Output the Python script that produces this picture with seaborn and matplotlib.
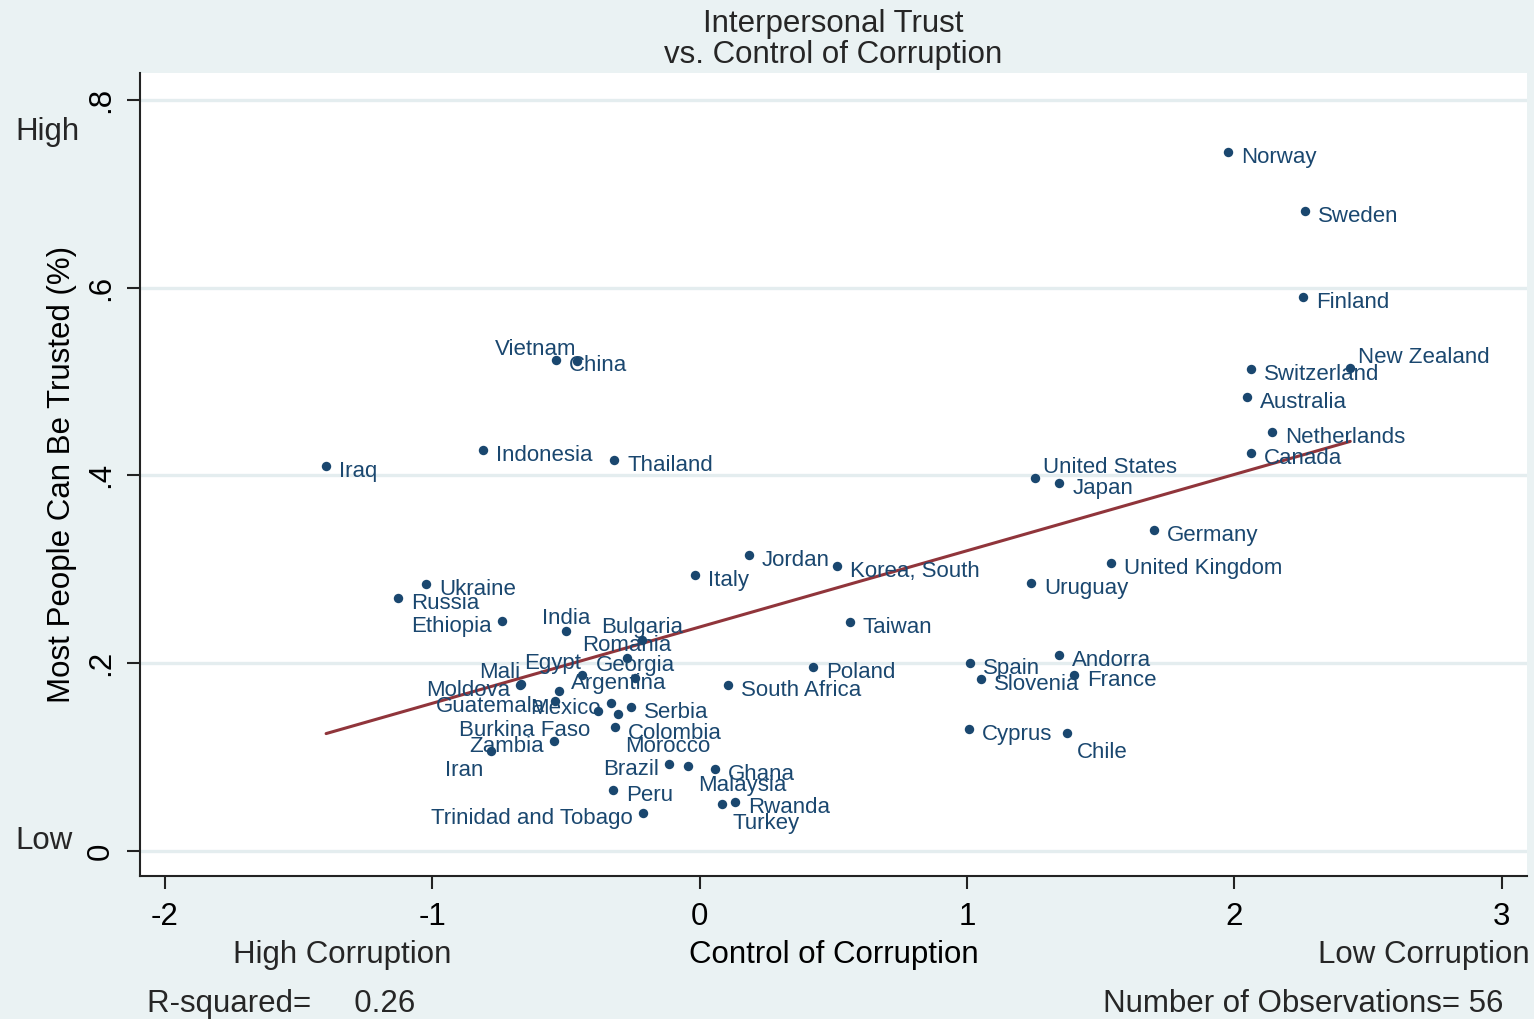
import numpy as np
import pandas as pd
import matplotlib
matplotlib.use("Agg")
import matplotlib.pyplot as plt
import seaborn as sns

# --- data ---
countries = [
    "Norway", "Sweden", "Finland", "New Zealand", "Switzerland", "Australia",
    "Netherlands", "Canada", "United States", "Japan", "Germany", "United Kingdom",
    "Uruguay", "Korea, South", "Jordan", "Italy", "Taiwan", "Poland",
    "South Africa", "Spain", "Slovenia", "Andorra", "France", "Cyprus", "Chile",
    "Iraq", "Indonesia", "Thailand", "Vietnam", "China", "Ukraine", "Russia",
    "Ethiopia", "India", "Bulgaria", "Romania", "Egypt", "Georgia", "Mali",
    "Moldova", "Argentina", "Guatemala", "Mexico", "Burkina Faso", "Colombia",
    "Serbia", "Morocco", "Zambia", "Iran", "Brazil", "Malaysia", "Ghana",
    "Peru", "Trinidad and Tobago", "Rwanda", "Turkey",
]
control = [
    1.976, 2.264, 2.257, 2.433, 2.062, 2.047,
    2.141, 2.062, 1.254, 1.345, 1.700, 1.538,
    1.239, 0.514, 0.185, -0.017, 0.562, 0.425,
    0.106, 1.011, 1.052, 1.345, 1.401, 1.007, 1.374,
    -1.397, -0.810, -0.320, -0.458, -0.539, -1.023, -1.128,
    -0.739, -0.500, -0.215, -0.272, -0.440, -0.242, -0.668,
    -0.672, -0.526, -0.541, -0.331, -0.380, -0.305,
    -0.257, -0.316, -0.545, -0.780, -0.114, -0.043, 0.058,
    -0.324, -0.212, 0.132, 0.084,
]
trust = [
    0.744, 0.682, 0.590, 0.514, 0.513, 0.483,
    0.446, 0.424, 0.397, 0.392, 0.342, 0.307,
    0.285, 0.304, 0.315, 0.294, 0.244, 0.196,
    0.177, 0.200, 0.183, 0.209, 0.187, 0.130, 0.126,
    0.410, 0.427, 0.416, 0.522, 0.523, 0.284, 0.269,
    0.245, 0.234, 0.225, 0.206, 0.187, 0.184, 0.178,
    0.177, 0.170, 0.160, 0.158, 0.149, 0.146,
    0.153, 0.132, 0.117, 0.106, 0.093, 0.091, 0.087,
    0.065, 0.040, 0.052, 0.050,
]
# clock position of each marker label (Stata style)
label_clock = [
    3, 3, 3, 1, 3, 3,
    3, 3, 1, 3, 3, 3,
    3, 3, 3, 3, 3, 3,
    3, 3, 3, 3, 3, 3, 4,
    3, 3, 3, 11, 3, 3, 3,
    9, 12, 12, 12, 11, 12, 11,
    9, 2, 9, 9, 7, 4,
    3, 4, 9, 7, 9, 4, 3,
    3, 9, 3, 4,
]
y_ticks = [0, 0.2, 0.4, 0.6, 0.8]
y_ticklabels = ["0", ".2", ".4", ".6", ".8"]
x_ticks = [-2, -1, 0, 1, 2, 3]
r_squared = "0.26"

NAVY = "#1a476f"
MAROON = "#90353b"
BG = "#eaf2f3"
GRID = "#e4edef"

# pixel offsets for each clock position: (dx, dy, ha)
CLOCK_OFFSETS = {
    1: (8, 13, "left"),
    2: (12, 10, "left"),
    3: (13, -3, "left"),
    4: (10, -17, "left"),
    7: (-8, -17, "right"),
    9: (-10, -3, "right"),
    11: (-1, 14, "right"),
    12: (0, 15, "center"),
}

df = pd.DataFrame({"country": countries, "control": control, "trust": trust,
                   "clock": label_clock})

sns.set_theme(style="white")
plt.rcParams["font.family"] = ["Liberation Sans", "DejaVu Sans"]
plt.rcParams["axes.unicode_minus"] = False

W, H = 1534, 1019
fig = plt.figure(figsize=(W / 100, H / 100), dpi=100, facecolor=BG)
ax = fig.add_axes([140 / W, 1 - 876 / H, (1527 - 140) / W, (876 - 73) / H])
ax.set_facecolor("white")

ax.set_xlim(-2.093, 3.094)
ax.set_ylim(-0.0266, 0.8285)

ax.set_yticks(y_ticks)
ax.set_yticklabels(y_ticklabels)
ax.set_xticks(x_ticks)
ax.yaxis.grid(True, color=GRID, lw=2.4)
ax.xaxis.grid(False)
ax.set_axisbelow(True)

sns.regplot(data=df, x="control", y="trust", scatter=False, ci=None,
            color=MAROON, line_kws=dict(lw=2.2), ax=ax)
sns.scatterplot(data=df, x="control", y="trust", color=NAVY, s=46,
                linewidth=0, ax=ax, zorder=3)

for _, row in df.iterrows():
    dx, dy, ha = CLOCK_OFFSETS[row["clock"]]
    ax.annotate(row["country"], (row["control"], row["trust"]),
                xytext=(dx, dy), textcoords="offset pixels",
                ha=ha, va="center_baseline", fontsize=16, color=NAVY, zorder=4)

for side in ["top", "right"]:
    ax.spines[side].set_visible(False)
for side in ["left", "bottom"]:
    ax.spines[side].set_color("#222222")
    ax.spines[side].set_linewidth(1.5)

ax.tick_params(axis="both", direction="out", length=9.5, width=1.5,
               color="#222222", labelsize=22.5, labelcolor="black",
               left=True, bottom=True)
ax.tick_params(axis="x", pad=9)
ax.tick_params(axis="y", pad=8)
for lab in ax.get_yticklabels():
    lab.set_rotation(90)
    lab.set_va("center")

ax.set_xlabel("Control of Corruption", fontsize=22.5, color="black")
ax.xaxis.set_label_coords(0.5, (876 - 955) / 803)
ax.xaxis.label.set_va("center")
ax.set_ylabel("Most People Can Be Trusted (%)", fontsize=22.5, color="black")
ax.yaxis.set_label_coords((62 - 140) / 1387, 0.5)
ax.yaxis.label.set_va("center")

fig.text(833 / W, 1 - 39.5 / H, "Interpersonal Trust\nvs. Control of Corruption",
         ha="center", va="center", fontsize=22.5, linespacing=1.05)
fig.text(15 / W, 1 - 132 / H, "High", ha="left", va="center", fontsize=22.5)
fig.text(15 / W, 1 - 841 / H, "Low", ha="left", va="center", fontsize=22.5)
fig.text(342 / W, 1 - 955 / H, "High Corruption", ha="center", va="center", fontsize=22.5)
fig.text(1530 / W, 1 - 955 / H, "Low Corruption", ha="right", va="center", fontsize=22.5)
fig.text(147 / W, 1 - 1004 / H, "R-squared=     " + r_squared,
         ha="left", va="center", fontsize=22.5)
fig.text(1503 / W, 1 - 1004 / H, f"Number of Observations= {len(df)}",
         ha="right", va="center", fontsize=22.5)

fig.savefig("out.png", dpi=100, facecolor=BG)
